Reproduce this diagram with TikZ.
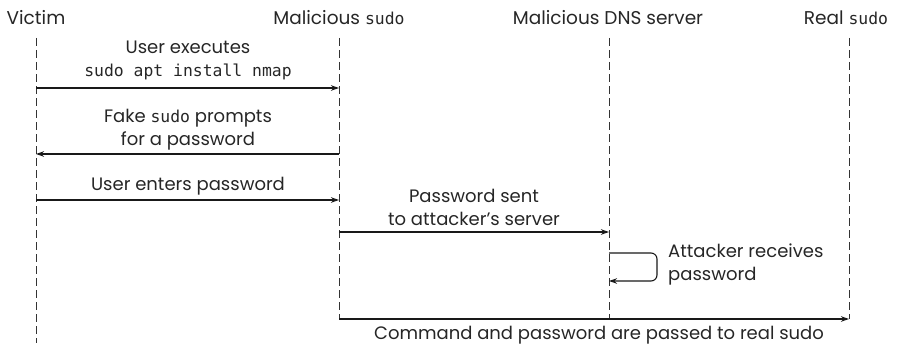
\documentclass[tikz,border=0pt]{standalone}
\usepackage{fontspec}
\setmainfont{Poppins}
\setmonofont{DejaVu Sans Mono}
\usetikzlibrary{arrows.meta}
\begin{document}
\begin{tikzpicture}[x=1pt,y=-1pt,
  every node/.style={inner sep=0pt,font=\fontsize{18}{23}\selectfont,text=black!85},
  head/.style={anchor=base,font=\fontsize{18.5}{23}\selectfont},
  lab/.style={align=center,anchor=base},
  life/.style={line width=0.9pt,dash pattern=on 8pt off 4pt,black!80},
  msg/.style={line width=1.3pt,-{Stealth[length=8pt,width=5.5pt]},black!90}]
\useasboundingbox (0,0) rectangle (899,345);
\newcommand{\ms}[1]{{\ttfamily\fontsize{16.4}{22}\selectfont #1}}
% headers
\node[head] (hv) at (36,25) {Victim};
\node[head] (hm) at (339,25) {Malicious \ms{sudo}};
\node[head] (hd) at (608,25) {Malicious DNS server};
\node[head] (hr) at (846,25) {Real \ms{sudo}};
% lifeline ends
\coordinate (v0) at (36,38);  \coordinate (v1) at (36,343);
\coordinate (m0) at (339,38); \coordinate (m1) at (339,319);
\coordinate (d0) at (609,38); \coordinate (d1) at (609,319);
\coordinate (r0) at (849,38); \coordinate (r1) at (849,319);
\draw[life] (v0) -- (v1);
\draw[life] (m0) -- (m1);
\draw[life] (d0) -- (d1);
\draw[life] (r0) -- (r1);
% message anchors
\coordinate (a1) at (36,88);  \coordinate (b1) at (339,88);
\coordinate (a2) at (339,154); \coordinate (b2) at (36,154);
\coordinate (a3) at (36,200); \coordinate (b3) at (339,200);
\coordinate (a4) at (339,232); \coordinate (b4) at (609,232);
\coordinate (s0) at (609,253); \coordinate (s1) at (609,281);
\coordinate (sx) at (657,253); \coordinate (sy) at (657,281);
\coordinate (c0) at (339,319); \coordinate (c1) at (849,319);
\draw[msg] (a1) -- (b1);
\draw[msg] (a2) -- (b2);
\draw[msg] (a3) -- (b3);
\draw[msg] (a4) -- (b4);
\draw[msg,line width=1.1pt,rounded corners=6pt] (s0) -- (sx) -- (sy) -- (s1);
\draw[msg] (c0) -- (c1);
% labels (base = baseline of the last line)
\node[lab] (l1) at (188,76) {User executes\\\ms{sudo apt install nmap}};
\node[lab] (l2) at (188,145) {Fake \ms{sudo} prompts\\for a password};
\node[lab] (l3) at (188,190) {User enters password};
\node[lab] (l4) at (474,225) {Password sent\\to attacker’s server};
\node[align=left,anchor=base west] (l5) at (668,280) {Attacker receives\\password};
\node[lab] (l6) at (599,339) {Command and password are passed to real sudo};
\end{tikzpicture}
\end{document}
